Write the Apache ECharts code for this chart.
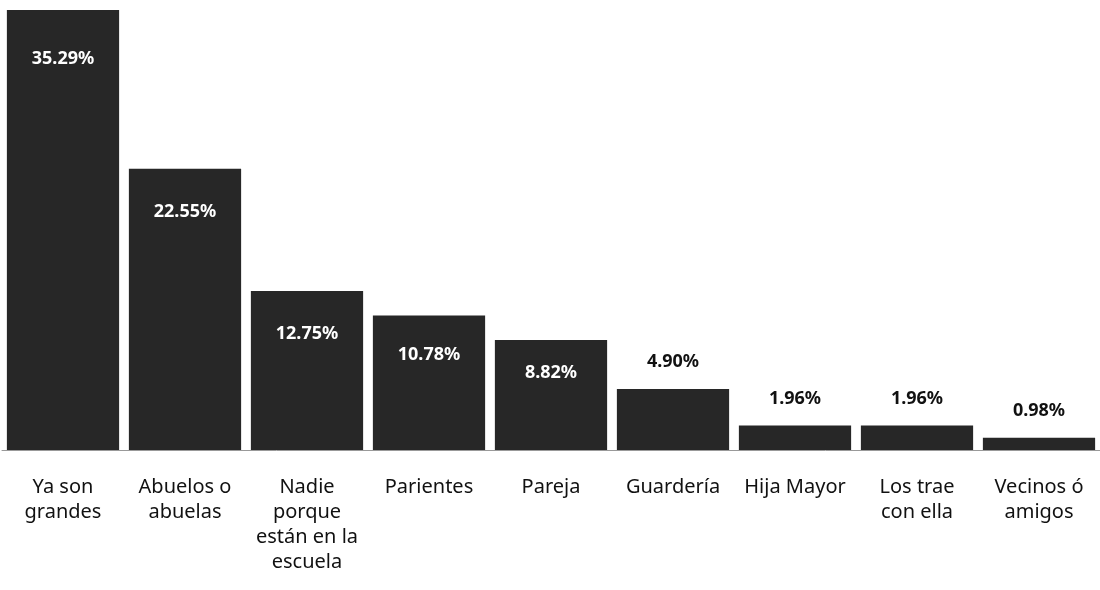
<!DOCTYPE html>
<html>
<head>
<meta charset="utf-8">
<script src="https://cdn.jsdelivr.net/npm/echarts@6/dist/echarts.min.js"></script>
<style>
  html, body { margin: 0; padding: 0; background: #fff; }
  #chart { width: 1100px; height: 590px; }
</style>
</head>
<body>
<div id="chart"></div>
<script>
const categories = [
  'Ya son\ngrandes',
  'Abuelos o\nabuelas',
  'Nadie\nporque\nestán en la\nescuela',
  'Parientes',
  'Pareja',
  'Guardería',
  'Hija Mayor',
  'Los trae\ncon ella',
  'Vecinos ó\namigos'
]
const shares = [35.29, 22.55, 12.75, 10.78, 8.82, 4.90, 1.96, 1.96, 0.98]

// separación de la etiqueta respecto al borde superior de la barra
const labelGap = [40, 34, 34, 30, 24, 18, 18, 18, 18]

const chart = echarts.init(document.getElementById('chart'))

// barras grandes: etiqueta blanca dentro; pequeñas: negra encima
const seriesData = shares.map((v, i) => ({
  value: v,
  label: v > 6
    ? {position: 'insideTop', distance: labelGap[i], color: '#fff'}
    : {position: 'top', distance: labelGap[i], color: '#111'}
}))

chart.setOption({
  animation: false,
  grid: {left: 2, right: 0, top: 10, bottom: 140},
  xAxis: {
    type: 'category',
    data: categories,
    axisLine: {lineStyle: {color: '#999', width: 1}},
    axisTick: {show: false},
    axisLabel: {
      interval: 0,
      margin: 25,
      color: '#111',
      fontFamily: 'Noto Sans',
      fontSize: 20,
      lineHeight: 25
    }
  },
  yAxis: {type: 'value', min: 0, max: 'dataMax', show: false, splitLine: {show: false}},
  series: [{
    type: 'bar',
    data: seriesData,
    barCategoryGap: '8%',
    itemStyle: {color: '#272727'},
    label: {
      show: true,
      fontFamily: 'Noto Sans',
      fontWeight: 'bold',
      fontSize: 18,
      formatter: p => p.value.toFixed(2) + '%'
    }
  }]
})
</script>
</body>
</html>
